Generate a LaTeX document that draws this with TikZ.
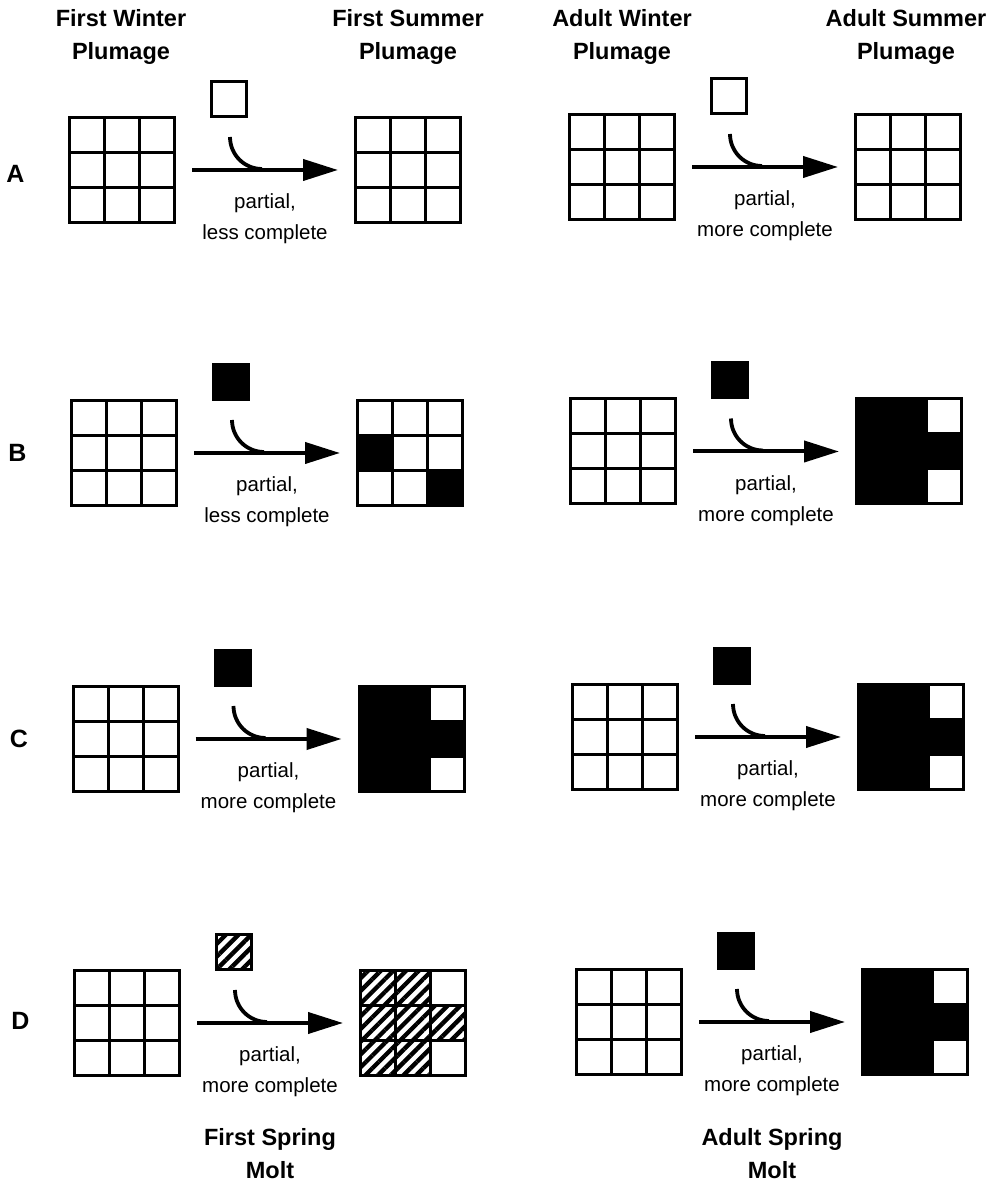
\documentclass[tikz,border=0pt]{standalone}
\usepackage{fontspec}
\setmainfont{Liberation Sans}
\usetikzlibrary{arrows.meta,calc,patterns.meta}

\begin{document}
\begin{tikzpicture}[
  x=1pt,
  y=1pt,
  line width=3pt,
  every node/.style={inner sep=0pt},
  head/.style={font=\fontsize{23.5}{33}\selectfont\bfseries, align=center},
  rowlabel/.style={font=\fontsize{25}{28}\selectfont\bfseries},
  moltnote/.style={font=\fontsize{20.5}{24}\selectfont, anchor=base},
  gridbox/.style={draw, outer sep=0pt, minimum size=105pt},
  feather/.style={draw, outer sep=0pt, minimum size=35pt},
  whitecell/.style={fill=white},
  blackcell/.style={fill=black},
  hatchcell/.style={pattern={Lines[angle=45, distance=9pt, line width=4.3pt]}},
  moltarrow/.style={line width=4pt, -{Triangle[length=35pt, width=21pt]}},
  moltcurve/.style={line width=3.8pt}
]
  \useasboundingbox (0,0) rectangle (997,1186);

  % ---- column heads ----
  \node[head] (hfw) at (121,1149) {First Winter\\Plumage};
  \node[head] (hfs) at (408,1149) {First Summer\\Plumage};
  \node[head] (haw) at (622,1149) {Adult Winter\\Plumage};
  \node[head] (has) at (906,1149) {Adult Summer\\Plumage};

  % ---- row letters ----
  \foreach \lab/\X/\Y in {A/122/1012, B/124/733, C/125.5/447, D/127/165}
    \node[rowlabel] (row\lab) at (\X-106.5,\Y) {\lab};

  % ---- one molt per entry: winter grid, new feather, summer grid ----
  \foreach \id/\X/\Y/\fs/\txt/\ts/\cells in {
      aL/122/1016/whitecell/less/whitecell/{1/1},
      aR/622/1019/whitecell/more/whitecell/{1/1},
      bL/124/733/blackcell/less/blackcell/{1/2,3/3},
      bR/623/734.5/blackcell/more/blackcell/{1/1,2/1,1/2,2/2,3/2,1/3,2/3},
      cL/125.5/447/blackcell/more/blackcell/{1/1,2/1,1/2,2/2,3/2,1/3,2/3},
      cR/625/449/blackcell/more/blackcell/{1/1,2/1,1/2,2/2,3/2,1/3,2/3},
      dL/127/163/hatchcell/more/hatchcell/{1/1,2/1,1/2,2/2,3/2,1/3,2/3},
      dR/629/164/blackcell/more/blackcell/{1/1,2/1,1/2,2/2,3/2,1/3,2/3}}{
    \node[gridbox] (w\id) at (\X,\Y) {};
    \node[gridbox] (s\id) at (\X+286,\Y) {};
    \foreach \c/\r in \cells
      \fill[\ts] ($(s\id.north west)+(\c*35-35,35-\r*35)$) rectangle +(35,-35);
    \foreach \g in {w\id,s\id}{
      \foreach \i in {1,2}{
        \draw ($(\g.north west)+(\i*35,0)$) -- ($(\g.south west)+(\i*35,0)$);
        \draw ($(\g.north west)+(0,-\i*35)$) -- ($(\g.north east)+(0,-\i*35)$);
      }
      \draw (\g.north west) rectangle (\g.south east);
    }
    % ---- feather coming in ----
    \node[feather, \fs] (f\id) at (\X+107,\Y+71) {};
    \draw[moltarrow] ([xshift=17.5pt]w\id.east) -- ([xshift=-17.5pt]s\id.west);
    \draw[moltcurve] ([xshift=1pt,yshift=-20.5pt]f\id.south)
      arc[start angle=180, end angle=270, radius=32pt];
    % ---- molt notes ----
    \node[moltnote] (p\id) at ($(w\id.east)!0.5!(s\id.west)+(0,-39)$) {partial,};
    \node[moltnote] (m\id) at ($(p\id.base)+(0,-31)$) {\txt{} complete};
  }

  % ---- molt names ----
  \node[head] (fsm) at (270,32) {First Spring\\Molt};
  \node[head] (asm) at (772,32) {Adult Spring\\Molt};
\end{tikzpicture}
\end{document}
